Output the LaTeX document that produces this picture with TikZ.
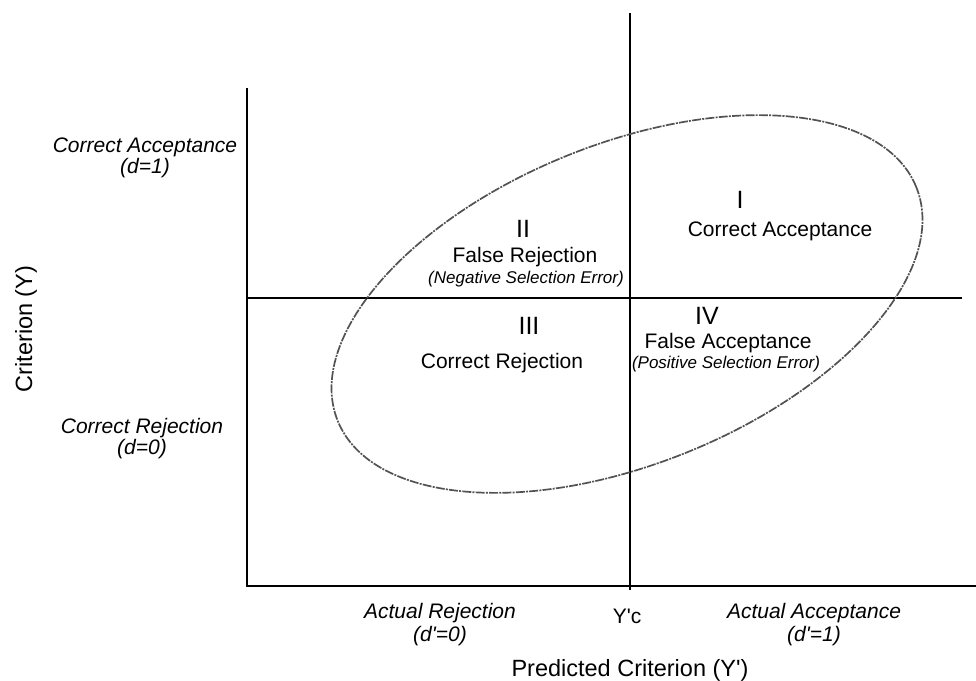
\documentclass[tikz,border=0pt]{standalone}
\usepackage{fontspec}
\setmainfont{Liberation Sans}[Ligatures=TeXOff]
\begin{document}
\begin{tikzpicture}[x=1pt,y=-1pt,
  axis/.style={line width=1.9pt,black},
  ell/.style={line width=1.7pt,black!68,dash pattern=on 9pt off 1.2pt on 2pt off 1.2pt},
  num/.style={anchor=base,inner sep=0pt,font=\fontsize{25}{28}\selectfont},
  lab/.style={anchor=base,inner sep=0pt,font=\fontsize{21}{24}\selectfont},
  sub/.style={anchor=base,inner sep=0pt,font=\fontsize{17}{20}\selectfont\itshape},
  side/.style={anchor=base,inner sep=0pt,font=\fontsize{21}{24}\selectfont\itshape},
  ttl/.style={anchor=base,inner sep=0pt,font=\fontsize{23.5}{26}\selectfont}]
\useasboundingbox (0,0) rectangle (976,680);
% axes
\coordinate (ytop) at (247,88);
\coordinate (orig) at (247,586);
\coordinate (xend) at (976,586);
\coordinate (ctop) at (630,13);
\coordinate (cbot) at (630,590);
\coordinate (mleft) at (247,298);
\coordinate (mright) at (962,298);
\draw[axis] (ytop) -- (orig) -- (xend);
\draw[axis] (ctop) -- (cbot);
\draw[axis] (mleft) -- (mright);
% ellipse
\coordinate (ec) at (627,304);
\draw[ell, rotate around={22:(ec)}] (ec) ellipse [x radius=312pt, y radius=160pt];
% quadrant labels
\node[num] (q1) at (740,208) {I};
\node[lab] (q1t) at (780,236) {Correct Acceptance};
\node[num] (q2) at (523,237) {II};
\node[lab] (q2t) at (525,262) {False Rejection};
\node[sub] (q2s) at (526,283) {(Negative Selection Error)};
\node[num] (q3) at (529,334) {III};
\node[lab] (q3t) at (502,368) {Correct Rejection};
\node[num] (q4) at (707,324) {IV};
\node[lab] (q4t) at (728,348) {False Acceptance};
\node[sub] (q4s) at (726,368) {(Positive Selection Error)};
% left labels
\node[side] (ca) at (145,152) {Correct Acceptance};
\node[side] (ca2) at (145,173) {(d=1)};
\node[side] (cr) at (142,433) {Correct Rejection};
\node[side] (cr2) at (142,454) {(d=0)};
\node[ttl,rotate=90] (yl) at (32,329) {Criterion (Y)};
% bottom labels
\node[side] (ar) at (440,618) {Actual Rejection};
\node[side] (ar2) at (440,641) {(d'=0)};
\node[lab] (yc) at (627,623) {Y'c};
\node[side] (aa) at (814,618) {Actual Acceptance};
\node[side] (aa2) at (814,641) {(d'=1)};
\node[ttl] (xl) at (630,676) {Predicted Criterion (Y')};
\end{tikzpicture}
\end{document}
